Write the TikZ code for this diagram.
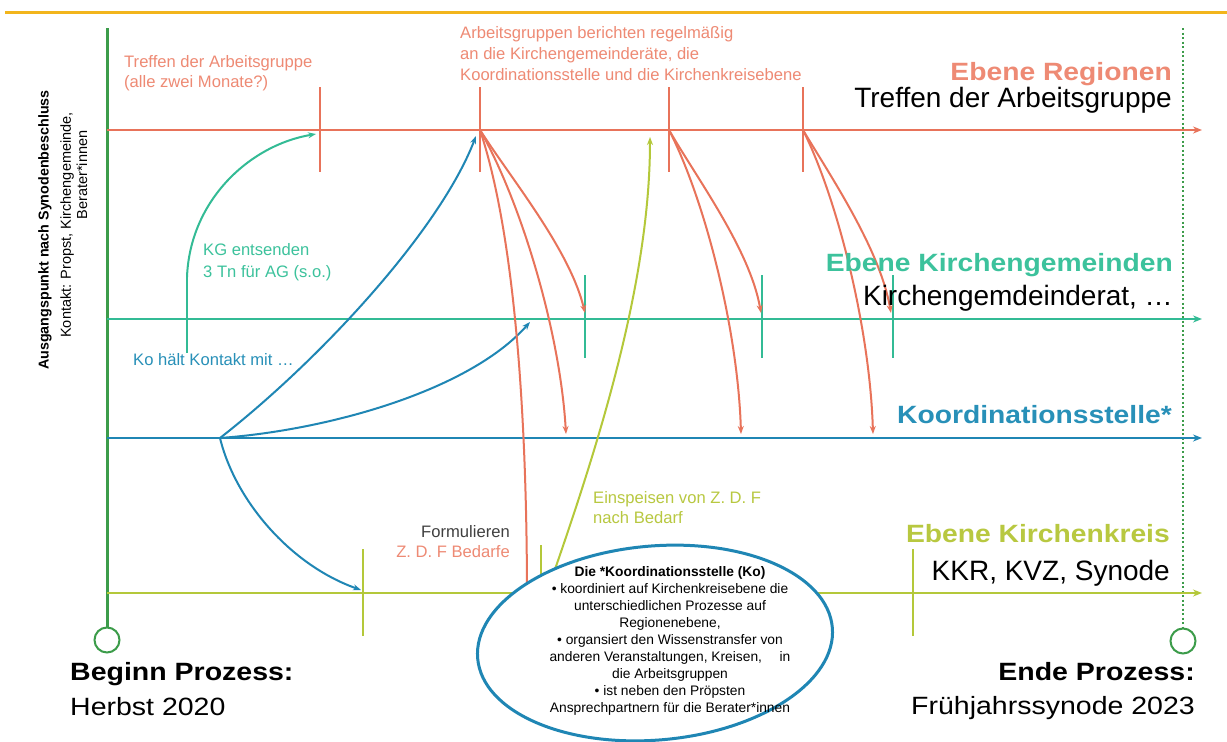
\documentclass[tikz,border=0pt]{standalone}
\usepackage{fontspec}
\setmainfont{Liberation Sans}
\newfontfamily\widefont{Liberation Sans}[FakeStretch=1.13]
\newfontfamily\wideerfont{Liberation Sans}[FakeStretch=1.14]
\usetikzlibrary{arrows.meta}
\definecolor{reg}{HTML}{E8735A}
\definecolor{regtxt}{HTML}{EE8A74}
\definecolor{kg}{HTML}{33BB95}
\definecolor{kgtxt}{HTML}{3CC29C}
\definecolor{ko}{HTML}{1F86B4}
\definecolor{kotxt}{HTML}{2890B8}
\definecolor{kk}{HTML}{B4C83A}
\definecolor{kktxt}{HTML}{B8C840}
\definecolor{grn}{HTML}{3C9C4A}
\definecolor{gold}{HTML}{F2B51C}
\begin{document}
\begin{tikzpicture}[x=1pt,y=-1pt,
  lane/.style={line width=2.5pt,-{Stealth[length=9pt,width=7pt]}},
  tickmark/.style={line width=2pt},
  flow/.style={line width=2pt,-{Stealth[length=8pt,width=6pt]}},
  lbl/.style={inner sep=0pt},
  small/.style={lbl,font=\fontsize{16.6}{19}\selectfont},
  big/.style={lbl,font=\fontsize{28}{32}\selectfont},
  head/.style={lbl,font=\widefont\bfseries\fontsize{25}{29}\selectfont},
  midb/.style={lbl,font=\wideerfont\bfseries\fontsize{25}{29}\selectfont},
  mid/.style={lbl,font=\wideerfont\fontsize{25}{29}\selectfont}
]
\useasboundingbox (0,0) rectangle (1227,742);
\fill[white] (0,0) rectangle (1227,742);

% top rule
\draw[gold,line width=3pt] (5,12) -- (1227,12);

% time axis
\coordinate (o1) at (107,28);
\coordinate (o2) at (107,627);
\coordinate (e1) at (1183,28);
\coordinate (e2) at (1183,628);
\draw[grn,line width=3pt] (o1) -- (o2);
\node[draw=grn,line width=2pt,circle,minimum size=25pt,inner sep=0pt] (oc) at (107,640) {};
\draw[grn,line width=2.5pt,dash pattern=on 2pt off 2.5pt] (e1) -- (e2);
\node[draw=grn,line width=2pt,circle,minimum size=25pt,inner sep=0pt] (ec) at (1183,641) {};

% lanes
\coordinate (rs) at (107,130); \coordinate (re) at (1202,130);
\coordinate (gs) at (107,319); \coordinate (ge) at (1202,319);
\coordinate (bs) at (107,438); \coordinate (be) at (1202,438);
\coordinate (ks) at (107,593); \coordinate (ke) at (1202,593);
\draw[lane,reg] (rs) -- (re);
\draw[lane,kg] (gs) -- (ge);
\draw[lane,ko] (bs) -- (be);
\draw[lane,kk] (ks) -- (ke);

% ticks on Regionen
\coordinate (r1) at (320,130);
\coordinate (r2) at (480,130);
\coordinate (r3) at (669,130);
\coordinate (r4) at (803,130);
\foreach \x in {320,480,669,803} \draw[tickmark,reg] (\x,87) -- (\x,172);
% ticks on Kirchengemeinden
\coordinate (g1) at (585,313);
\coordinate (g2) at (761,313);
\coordinate (g3) at (891,313);
\foreach \x in {585,762,893} \draw[tickmark,kg] (\x,275) -- (\x,358);
\draw[tickmark,kg] (187,273) -- (187,353);
\coordinate (ka) at (187,277);
% ticks on Kirchenkreis
\foreach \x in {363,913} \draw[tickmark,kk] (\x,549) -- (\x,636);
\draw[tickmark,kk] (541,545) -- (541,600);
\coordinate (k1) at (361,590);

% Koordinationsstelle origin
\coordinate (bo) at (220,438);
\coordinate (b1) at (476,136);
\coordinate (b2) at (530,322);

% teal arc KG -> AG
\draw[flow,kg] (ka) .. controls (190,200) and (250,145) .. (316,134);
% blue arcs
\draw[flow,ko] (bo) .. controls (320,360) and (440,230) .. (b1);
\draw[flow,ko] (bo) .. controls (330,430) and (470,390) .. (b2);
\draw[flow,ko] (bo) .. controls (235,500) and (290,565) .. (k1);

% red arcs from the meetings
\coordinate (c1) at (566,434);
\coordinate (c2) at (741,434);
\coordinate (c3) at (873,434);
\coordinate (rz) at (527,600);
\draw[flow,reg] (r2) .. controls (512,180) and (570,250) .. (g1);
\draw[flow,reg] (r2) .. controls (520,200) and (560,330) .. (c1);
\draw[line width=2pt,reg] (r2) .. controls (510,220) and (527,380) .. (rz);
\draw[flow,reg] (r3) .. controls (698,180) and (750,250) .. (g2);
\draw[flow,reg] (r3) .. controls (705,200) and (738,330) .. (c2);
\draw[flow,reg] (r4) .. controls (833,180) and (880,250) .. (g3);
\draw[flow,reg] (r4) .. controls (838,200) and (870,330) .. (c3);

% yellow-green feed
\coordinate (ks1) at (553,575);
\coordinate (ks2) at (650,137);
\draw[flow,kk] (ks1) .. controls (600,440) and (650,280) .. (ks2);

% ellipse
\draw[ko,line width=3pt,fill=white,rotate around={5:(655,643)}] (655,643) ellipse [x radius=178, y radius=97];
\node[lbl,align=center,font=\fontsize{13.8}{17}\selectfont] (kobox) at (670,641)
 {\textbf{Die *Koordinationsstelle (Ko)}\\
  • koordiniert auf Kirchenkreisebene die\\
  unterschiedlichen  Prozesse auf\\
  Regionenebene,\\
  • organsiert den Wissenstransfer  von\\
  anderen Veranstaltungen,  Kreisen,\quad\ in\\
  die Arbeitsgruppen\\
  • ist neben den Pröpsten\\
  Ansprechpartnern  für die Berater*innen};

% left rotated text
\node[lbl,rotate=90,font=\bfseries\fontsize{14.3}{16}\selectfont] (ausg) at (45,230) {Ausgangspunkt nach Synodenbeschluss};
\node[lbl,rotate=90,font=\fontsize{14.5}{16}\selectfont] (kont) at (67,225) {Kontakt: Propst, Kirchengemeinde,};
\node[lbl,rotate=90,font=\fontsize{14.5}{16}\selectfont] (bera) at (82,175) {Berater*innen};

% small labels
\node[small,regtxt,anchor=base west] (ta1) at (124,67) {Treffen der Arbeitsgruppe};
\node[small,regtxt,anchor=base west] (ta2) at (124,87) {(alle zwei Monate?)};
\node[small,regtxt,anchor=base west] (ab1) at (460,38) {Arbeitsgruppen berichten regelmäßig};
\node[small,regtxt,anchor=base west] (ab2) at (460,59) {an die Kirchengemeinderäte, die};
\node[small,regtxt,anchor=base west] (ab3) at (460,80) {Koordinationsstelle und die Kirchenkreisebene};
\node[small,kgtxt,anchor=base west] (kg1) at (203,255) {KG entsenden};
\node[small,kgtxt,anchor=base west] (kg2) at (203,277) {3 Tn für AG (s.o.)};
\node[small,kotxt,anchor=base west] (kok) at (133,365) {Ko hält Kontakt mit …};
\node[small,black!75,anchor=base east] (form1) at (510,537) {Formulieren};
\node[small,regtxt,anchor=base east] (form2) at (510,557) {Z. D. F Bedarfe};
\node[small,kktxt,anchor=base west] (ein1) at (593,503) {Einspeisen von Z. D. F};
\node[small,kktxt,anchor=base west] (ein2) at (593,523) {nach Bedarf};

% lane titles
\node[head,regtxt,anchor=base east] (t1) at (1172,80) {Ebene Regionen};
\node[big,anchor=base east] (t1b) at (1172,107) {Treffen der Arbeitsgruppe};
\node[head,kgtxt,anchor=base east] (t2) at (1173,271) {Ebene Kirchengemeinden};
\node[big,anchor=base east] (t2b) at (1173,305) {Kirchengemdeinderat, …};
\node[head,kotxt,anchor=base east] (t3) at (1172,423) {Koordinationsstelle*};
\node[head,kktxt,anchor=base east] (t4) at (1170,542) {Ebene Kirchenkreis};
\node[big,anchor=base east] (t4b) at (1170,580) {KKR, KVZ, Synode};

% begin / end
\node[midb,anchor=base west] (beg1) at (70,680) {Beginn Prozess:};
\node[mid,anchor=base west] (beg2) at (70,715) {Herbst 2020};
\node[midb,anchor=base east] (end1) at (1195,680) {Ende Prozess:};
\node[mid,anchor=base east] (end2) at (1195,714) {Frühjahrssynode 2023};
\end{tikzpicture}
\end{document}
